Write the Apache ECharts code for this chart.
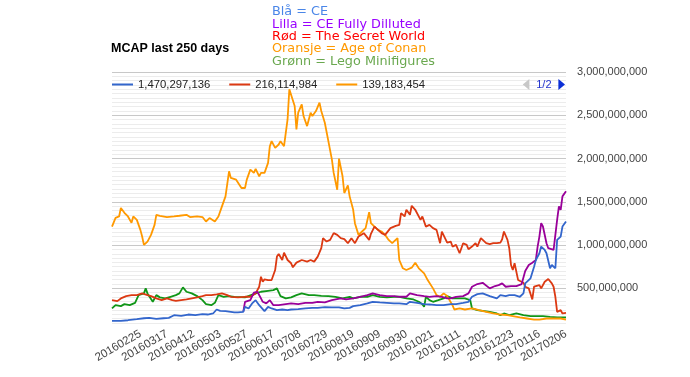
<!DOCTYPE html>
<html>
<head>
<meta charset="utf-8">
<script src="https://cdn.jsdelivr.net/npm/echarts@6/dist/echarts.min.js"></script>
<style>
html, body { margin: 0; padding: 0; background: #fff; }
#chart { width: 690px; height: 377px; }
</style>
</head>
<body>
<div id="chart"></div>
<script>
// trading days shown, tick every 15 days starting at day 16
var dayCount = 257;
var firstTick = 16, tickStep = 15;
var tickLabels = ['20160225', '20160317', '20160412', '20160503', '20160527', '20160617', '20160708', '20160729',
	'20160819', '20160909', '20160930', '20161021', '20161111', '20161202', '20161223', '20170116', '20170206'];

// legend entries (page 1 shows the values, page 2 holds the other two lines)
var legendNames = ['1,470,297,136', '216,114,984', '139,183,454', 'Lilla', 'Grønn'];

// [day, MCAP in millions]
var ce = [[0,124],[5,124],[9,132],[14,144],[18,155],[21,159],[25,147],[29,155],[32,159],[35,190],[36,171],[39,182],[43,198],[47,190],[51,202],[54,198],[57,210],[59,256],[61,240],[64,237],[67,229],[69,222],[71,222],[74,229],[75,287],[77,268],[79,326],[81,364],[83,306],[84,287],[86,237],[88,287],[90,268],[93,248],[96,256],[99,248],[101,256],[105,260],[109,268],[113,275],[116,275],[120,283],[124,280],[128,280],[131,268],[134,275],[136,295],[140,306],[144,326],[147,345],[151,338],[155,333],[159,326],[162,326],[166,318],[168,345],[172,333],[176,318],[179,314],[183,306],[187,306],[191,318],[194,318],[198,333],[201,345],[203,403],[206,434],[209,442],[213,411],[217,384],[219,422],[222,411],[224,422],[227,422],[230,403],[232,442],[233,558],[236,616],[238,751],[239,828],[241,906],[242,983],[244,944],[245,906],[247,732],[248,770],[249,751],[250,732],[251,1060],[253,1099],[254,1214],[256,1273]];

var ceDiluted = [[74,229],[75,345],[76,326],[78,364],[80,450],[82,461],[84,384],[85,345],[87,326],[89,364],[91,306],[94,306],[98,318],[101,326],[105,318],[109,333],[113,333],[116,345],[120,338],[124,364],[129,384],[132,372],[136,384],[140,403],[144,422],[147,442],[151,422],[155,411],[159,411],[162,403],[166,403],[168,442],[172,422],[176,411],[179,403],[183,411],[186,403],[189,384],[191,384],[194,403],[198,411],[201,442],[203,519],[206,550],[209,565],[210,558],[213,500],[216,527],[218,538],[220,558],[222,519],[225,527],[228,527],[231,550],[233,700],[235,770],[237,797],[239,828],[240,983],[241,1099],[242,1254],[243,1215],[245,1022],[246,964],[247,983],[249,944],[251,1292],[252,1447],[253,1408],[254,1563],[256,1621]];

var secretWorld = [[0,364],[3,353],[5,384],[8,411],[11,422],[14,422],[17,442],[20,422],[22,411],[25,384],[28,364],[31,384],[34,364],[36,356],[39,364],[42,372],[45,384],[48,396],[51,411],[53,422],[56,422],[59,430],[62,442],[65,422],[67,403],[71,396],[75,403],[78,403],[81,442],[83,519],[84,635],[85,577],[86,604],[88,596],[90,596],[92,712],[93,867],[94,898],[96,828],[97,913],[99,828],[101,790],[102,744],[104,797],[105,790],[107,828],[110,809],[112,828],[114,809],[116,867],[118,964],[119,1080],[121,1041],[123,1060],[125,1138],[127,1118],[129,1080],[131,1068],[133,1022],[135,1080],[137,1022],[139,1099],[142,1138],[145,1060],[146,1130],[148,1214],[150,1176],[152,1138],[154,1118],[157,1196],[160,1223],[162,1234],[163,1370],[165,1331],[166,1408],[168,1350],[169,1455],[171,1408],[172,1428],[174,1292],[175,1331],[177,1214],[179,1234],[181,1196],[183,1176],[185,1022],[186,1157],[187,1138],[189,1029],[191,1041],[192,983],[194,1002],[196,906],[198,1022],[200,1002],[201,952],[203,983],[205,1022],[206,983],[208,1080],[209,1068],[211,1022],[213,1010],[215,1022],[217,1022],[219,1029],[220,1068],[221,1157],[223,1060],[224,964],[225,770],[226,712],[227,790],[229,596],[230,596],[232,565],[233,519],[234,538],[235,500],[237,372],[238,519],[239,519],[241,538],[242,500],[244,577],[246,608],[248,558],[249,519],[250,403],[251,229],[253,248],[254,210],[256,216]];

var ageOfConan = [[0,1214],[2,1315],[4,1331],[5,1428],[7,1373],[9,1331],[11,1257],[12,1331],[14,1292],[16,1176],[17,1099],[18,1002],[20,1041],[21,1029],[22,1118],[24,1234],[25,1350],[27,1339],[31,1324],[35,1331],[38,1339],[42,1350],[44,1324],[48,1331],[51,1324],[53,1273],[55,1312],[58,1273],[60,1331],[62,1447],[64,1563],[66,1853],[67,1776],[70,1756],[73,1660],[75,1660],[76,1756],[78,1872],[80,1834],[81,1880],[83,1795],[84,1834],[86,1834],[88,1950],[89,2143],[90,2201],[92,2124],[94,2162],[95,2201],[97,2143],[99,2452],[100,2800],[101,2781],[103,2607],[104,2336],[105,2530],[107,2626],[108,2491],[110,2375],[112,2530],[113,2491],[115,2549],[117,2646],[118,2549],[120,2414],[122,2201],[124,1988],[125,1834],[127,1640],[128,2000],[130,1795],[131,1602],[133,1690],[134,1563],[136,1408],[137,1250],[139,1118],[141,1157],[143,1196],[145,1380],[146,1254],[148,1214],[150,1176],[152,1157],[154,1118],[156,1060],[158,1022],[161,1080],[162,828],[164,732],[166,712],[169,739],[171,797],[173,732],[176,674],[178,596],[181,500],[183,422],[185,403],[187,442],[189,411],[192,306],[193,256],[196,268],[199,256],[203,268],[207,248],[211,229],[215,210],[219,198],[223,190],[226,179],[230,164],[234,152],[238,140],[241,140],[245,152],[249,152],[253,152],[256,139]];

var legoMinifigures = [[0,268],[2,306],[5,295],[7,318],[10,306],[13,333],[15,422],[18,442],[19,500],[20,442],[21,449],[23,345],[24,333],[25,422],[27,396],[30,384],[33,403],[36,422],[38,442],[40,512],[42,461],[45,442],[48,411],[51,364],[53,318],[56,306],[58,333],[60,422],[61,442],[63,403],[66,411],[69,403],[75,396],[81,442],[84,461],[88,472],[91,480],[93,500],[95,411],[98,384],[101,396],[104,422],[107,442],[111,422],[114,422],[118,414],[122,411],[126,403],[130,384],[134,403],[136,384],[140,403],[144,403],[147,422],[151,403],[155,396],[159,403],[162,403],[166,384],[170,372],[173,345],[175,318],[176,287],[177,403],[179,364],[181,345],[184,364],[187,384],[189,411],[192,384],[194,384],[199,384],[202,364],[203,268],[206,248],[209,240],[213,229],[217,210],[219,190],[221,210],[224,190],[228,210],[232,190],[236,179],[239,179],[243,179],[247,171],[251,164],[256,164]];

var days = [];
for (var i = 0; i < dayCount; i++) days.push(String(i));

function toValues(arr) {
	return arr.map(function(p) { return [p[0], p[1] * 1e6]; });
}

var chart = echarts.init(document.getElementById('chart'));

var font = 'Arial, "Liberation Sans", sans-serif';
var noteFont = '"DejaVu Sans", Verdana, sans-serif';
var minorColors = [];
for (var k = 0; k < 10; k++) minorColors.push(k === 8 ? '#c8c8c8' : '#ececec');

function note(color) {
	return { color: color, fontFamily: noteFont, fontSize: 12.8, fontWeight: 'normal', lineHeight: 12.3 };
}

var lines = [
	{ name: legendNames[0], data: ce, color: '#3366cc', z: 6 },
	{ name: legendNames[1], data: secretWorld, color: '#dc3912', z: 4 },
	{ name: legendNames[2], data: ageOfConan, color: '#ff9900', z: 3 },
	{ name: legendNames[3], data: ceDiluted, color: '#990099', z: 5 },
	{ name: legendNames[4], data: legoMinifigures, color: '#109618', z: 2 }
];

option = {
	animation: false,
	title: [{
		text: 'MCAP last 250 days',
		left: 111,
		top: 42,
		padding: 0,
		textStyle: { fontFamily: font, fontSize: 12.5, fontWeight: 'bold', color: '#000' }
	}, {
		text: '{b|Blå = CE}\n{p|Lilla = CE Fully Dilluted}\n{r|Rød = The Secret World}\n{o|Oransje = Age of Conan}\n{g|Grønn = Lego Minifigures}',
		left: 272,
		top: 6,
		padding: 0,
		textStyle: {
			fontFamily: noteFont,
			fontSize: 12.8,
			fontWeight: 'normal',
			lineHeight: 12.3,
			rich: {
				b: note('#4a86e8'),
				p: note('#9900ff'),
				r: note('#ff0000'),
				o: note('#ff9900'),
				g: note('#6aa84f')
			}
		}
	}],
	legend: {
		type: 'scroll',
		left: 112,
		top: 79,
		width: 453,
		padding: 0,
		icon: 'rect',
		itemWidth: 21,
		itemHeight: 2,
		itemGap: 19,
		selectedMode: false,
		data: legendNames,
		textStyle: { fontFamily: font, fontSize: 11.3, color: '#222' },
		pageIconColor: '#0b2fd6',
		pageIconInactiveColor: '#c8c8c8',
		pageIconSize: [9, 11],
		pageButtonItemGap: 2,
		pageButtonGap: 90,
		pageTextStyle: { fontFamily: font, fontSize: 11, color: '#2233cc' },
		pageFormatter: '{current}/{total}'
	},
	grid: {
		left: 112,
		right: 124,
		top: 72,
		bottom: 54
	},
	xAxis: {
		type: 'category',
		data: days,
		boundaryGap: false,
		axisLine: { show: false },
		axisTick: { show: false },
		splitLine: { show: false },
		axisLabel: {
			rotate: 30,
			margin: 10,
			color: '#444',
			fontFamily: font,
			fontSize: 11.5,
			interval: function(index) {
				return index >= firstTick && (index - firstTick) % tickStep === 0;
			},
			formatter: function(value, index) {
				return tickLabels[(index - firstTick) / tickStep] || '';
			}
		}
	},
	yAxis: {
		type: 'value',
		position: 'right',
		min: 100e6,
		max: 3000e6,
		interval: 50e6,
		axisLine: { show: false },
		axisTick: { show: false },
		axisLabel: {
			margin: 11,
			color: '#444',
			fontFamily: font,
			fontSize: 11,
			formatter: function(v) {
				return v % 500e6 === 0 ? v.toLocaleString('en-US') : '';
			}
		},
		splitLine: { lineStyle: { color: minorColors, width: 1 } }
	},
	series: lines.map(function(s) {
		return {
			name: s.name,
			type: 'line',
			data: toValues(s.data),
			symbol: 'none',
			z: s.z,
			color: s.color,
			lineStyle: { width: 1.8, color: s.color }
		};
	})
};

chart.setOption(option);
</script>
</body>
</html>
